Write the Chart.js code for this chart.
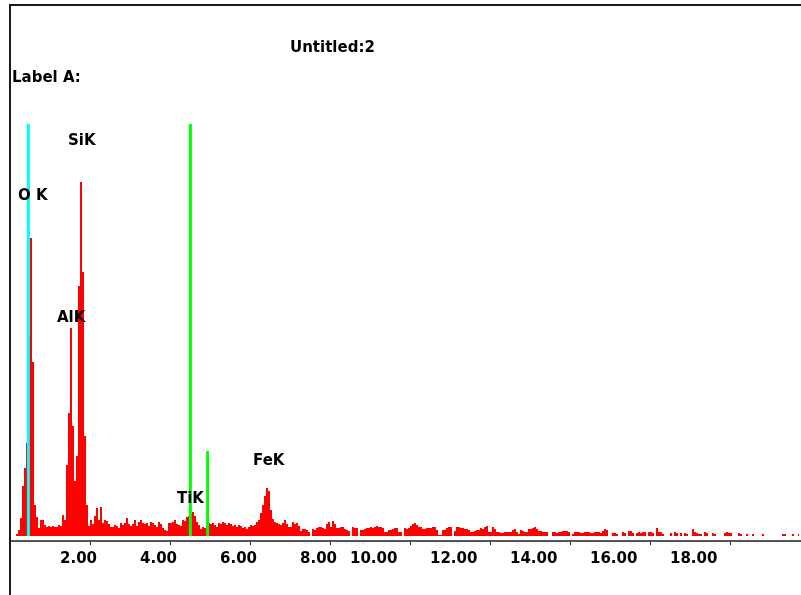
<!DOCTYPE html>
<html>
<head>
<meta charset="utf-8">
<title>Untitled:2</title>
<script src="https://cdn.jsdelivr.net/npm/chart.js@4"></script>
<style>
  html, body { margin: 0; padding: 0; background: #fff; }
  #wrap { width: 801px; height: 595px; }
</style>
</head>
<body>
<div id="wrap"><canvas id="spectrum" width="801" height="595"></canvas></div>
<script>
// EDS spectrum, 0.05 keV per channel (one row per keV)
const channelWidth = 0.05;
const counts = [
    0, 0, 0, 2, 6, 18, 50, 68, 93, 200, 298, 174, 31, 19, 8, 16, 16, 11, 9, 10,   // 0-1 keV
    9, 10, 9, 9, 11, 10, 21, 16, 71, 123, 208, 110, 55, 80, 250, 354, 264, 100, 31, 10,
    16, 12, 20, 28, 16, 29, 13, 16, 15, 12, 9, 9, 11, 10, 8, 13, 11, 13, 18, 12,
    10, 12, 16, 10, 14, 16, 13, 12, 13, 10, 14, 13, 11, 9, 14, 12, 8, 6, 5, 13,
    13, 14, 16, 12, 11, 10, 16, 15, 19, 20, 22, 24, 20, 14, 11, 7, 9, 8, 10, 13,
    12, 13, 11, 9, 13, 12, 14, 13, 11, 13, 12, 10, 11, 9, 11, 10, 8, 9, 7, 9,     // 5-6 keV
    11, 10, 11, 14, 16, 23, 31, 40, 48, 45, 26, 17, 14, 13, 12, 11, 13, 16, 12, 9,
    9, 14, 12, 13, 10, 5, 7, 7, 6, 4, 0, 7, 6, 8, 9, 9, 8, 7, 12, 14,
    9, 15, 12, 8, 8, 9, 9, 7, 6, 5, 0, 9, 8, 8, 0, 6, 6, 7, 8, 8,
    9, 8, 9, 10, 9, 9, 8, 4, 4, 6, 6, 7, 8, 8, 4, 4, 0, 8, 7, 8,
    10, 12, 13, 11, 9, 9, 7, 7, 8, 8, 8, 9, 9, 6, 1, 1, 6, 6, 8, 9,               // 10-11 keV
    9, 0, 5, 9, 9, 8, 8, 7, 7, 6, 4, 4, 5, 6, 6, 8, 7, 9, 10, 4,
    4, 9, 7, 4, 4, 3, 3, 4, 4, 4, 4, 6, 7, 4, 2, 6, 5, 4, 4, 7,
    7, 8, 9, 7, 5, 5, 4, 4, 4, 0, 0, 4, 4, 3, 4, 4, 5, 5, 5, 4,
    0, 2, 4, 4, 4, 3, 3, 4, 4, 4, 3, 3, 4, 4, 4, 3, 5, 7, 6, 0,
    0, 3, 3, 2, 0, 0, 4, 3, 0, 5, 5, 3, 0, 3, 4, 3, 4, 4, 0, 4,                   // 15-16 keV
    4, 3, 0, 8, 4, 4, 2, 0, 0, 0, 3, 0, 4, 3, 0, 3, 0, 3, 2, 0,
    0, 7, 4, 3, 2, 2, 0, 4, 3, 0, 0, 3, 2, 0, 0, 0, 0, 3, 4, 3,
    3, 0, 0, 0, 3, 2, 0, 0, 2, 0, 0, 2, 0, 0, 0, 0, 2, 0, 0, 0,
    0, 0, 0, 0, 0, 0, 2, 2, 0, 0, 0, 2, 0, 0, 2
];

// KLM marker lines
const markerEnergy = [0.46, 4.51, 4.94];
const markerHeight = [412, 412, 85];
const markerColors = ['#00ffff', '#00ff00', '#00ff00'];

// peak labels
const peakNames = ['O K', 'SiK', 'AlK', 'TiK', 'FeK'];
const peakLabelE = [0.2, 1.45, 1.175, 4.175, 6.075];
const peakLabelY = [336, 391, 214, 33, 71];

const tickValues = [2, 4, 6, 8, 10, 12, 14, 16, 18];
const tickLabels = ['2.00', '4.00', '6.00', '8.00', '10.00', '12.00', '14.00', '16.00', '18.00'];

const chartTitle = 'Untitled:2';
const labelText = 'Label A:';

const FONT = 'bold 15px "DejaVu Sans"';

const spectrumPoints = counts.map((c, i) => ({ x: (i + 0.5) * channelWidth, y: c }));

const markerSets = markerEnergy.map((e, i) => ({
    data: [{ x: e, y: 0 }, { x: e, y: markerHeight[i] }],
    borderColor: markerColors[i],
    borderWidth: 3,
    pointRadius: 0,
    fill: false,
    order: 1
}));

// frame, titles and labels
const overlay = {
    id: 'overlay',
    afterDraw(chart) {
        const { ctx } = chart;
        const x = chart.scales.x;
        const y = chart.scales.y;
        ctx.save();
        ctx.fillStyle = '#1a1a1a';
        ctx.fillRect(9, 4, 792, 2);
        ctx.fillRect(9, 4, 2, 591);

        ctx.font = FONT;
        ctx.fillStyle = '#000';
        ctx.textBaseline = 'alphabetic';
        ctx.textAlign = 'left';
        ctx.fillText(chartTitle, 290, 52);
        ctx.fillText(labelText, 12, 82);

        peakNames.forEach((name, i) => {
            ctx.fillText(name, x.getPixelForValue(peakLabelE[i]), y.getPixelForValue(peakLabelY[i]));
        });

        tickValues.forEach((v, i) => {
            const t = tickLabels[i];
            ctx.fillText(t, x.getPixelForValue(v) - (t.length > 4 ? 60 : 30), 563);
        });
        ctx.restore();
    }
};

new Chart(document.getElementById('spectrum'), {
    type: 'line',
    data: {
        datasets: [
            ...markerSets,
            {
                data: spectrumPoints,
                stepped: 'middle',
                borderWidth: 0,
                borderColor: '#ff0000',
                backgroundColor: '#ff0000',
                pointRadius: 0,
                fill: 'origin',
                order: 2
            }
        ]
    },
    options: {
        responsive: false,
        devicePixelRatio: 1,
        animation: false,
        layout: { padding: { left: 10, top: 124, right: 0, bottom: 0 } },
        plugins: {
            legend: { display: false },
            tooltip: { enabled: false },
            title: { display: false }
        },
        scales: {
            x: {
                type: 'linear',
                min: 0,
                max: 19.775,
                ticks: { display: false, stepSize: 2, includeBounds: false },
                grid: { drawOnChartArea: false, drawTicks: true, tickLength: 4, color: '#222', lineWidth: 1 },
                border: { display: true, color: '#555', width: 2 },
                afterFit(scale) { scale.height = 54; }
            },
            y: {
                display: false,
                min: -5,
                max: 412
            }
        }
    },
    plugins: [overlay]
});
</script>
</body>
</html>
